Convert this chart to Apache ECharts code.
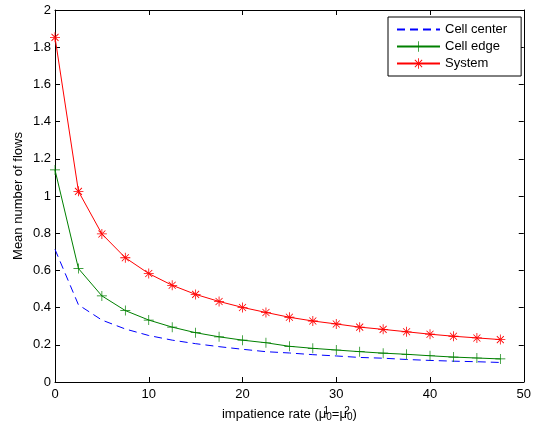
<!DOCTYPE html>
<html><head><meta charset="utf-8">
<script src="https://cdn.jsdelivr.net/npm/echarts@6/dist/echarts.min.js"></script>
<style>html,body{margin:0;padding:0;background:#fff}#c{width:534px;height:432px}</style>
</head><body><div id="c"></div>
<script>
const xValues = [0, 2.5, 5, 7.5, 10, 12.5, 15, 17.5, 20, 22.5, 25, 27.5, 30, 32.5, 35, 37.5, 40, 42.5, 45, 47.5];
const cellCenter = [0.713, 0.415, 0.333, 0.285, 0.250, 0.225, 0.206, 0.190, 0.176, 0.163, 0.156, 0.147, 0.140, 0.132, 0.128, 0.121, 0.116, 0.112, 0.109, 0.105];
const cellEdge = [1.14, 0.61, 0.463, 0.384, 0.333, 0.295, 0.265, 0.243, 0.225, 0.211, 0.192, 0.181, 0.172, 0.163, 0.155, 0.149, 0.141, 0.134, 0.129, 0.124];
const system = [1.853, 1.025, 0.796, 0.668, 0.583, 0.520, 0.471, 0.433, 0.401, 0.374, 0.348, 0.328, 0.312, 0.295, 0.283, 0.270, 0.257, 0.246, 0.237, 0.228];
const seriesNames = ['Cell center', 'Cell edge', 'System'];
const seriesColors = ['#0000ff', '#008000', '#ff0000'];
const yTickLabels = ['0','0.2','0.4','0.6','0.8','1','1.2','1.4','1.6','1.8','2'];

const pair = arr => xValues.map((x, i) => [x, arr[i]]);
const plusPath = 'path://M-1,-0.07L1,-0.07L1,0.07L-1,0.07Z M-0.07,-1L0.07,-1L0.07,1L-0.07,1Z';
const starPath = 'path://M-1,-0.08L1,-0.08L1,0.08L-1,0.08Z M-0.08,-1L0.08,-1L0.08,1L-0.08,1Z ' +
  'M-0.643,-0.757L0.757,0.643L0.643,0.757L-0.757,-0.643Z M-0.643,0.757L0.757,-0.643L0.643,-0.757L-0.757,0.643Z';
const emptyPath = 'path://M0,0L1,0L1,1L0,1Z';
const dashPattern = [8, 5];
const font = 'Liberation Sans';
const chart = echarts.init(document.getElementById('c'));
const axisCommon = {
  axisLine: {show: true, onZero: false, lineStyle: {color: '#000', width: 1}},
  axisTick: {show: true, inside: true, length: 5, lineStyle: {color: '#000'}},
  splitLine: {show: false}
};
chart.setOption({
  animation: false,
  backgroundColor: '#fff',
  textStyle: {fontFamily: font},
  grid: {left: 55, right: 8, top: 10, bottom: 50, containLabel: false},
  legend: {
    orient: 'vertical', left: 388, top: 17,
    data: seriesNames,
    backgroundColor: '#fff', borderColor: '#000', borderWidth: 1, borderRadius: 0,
    padding: [6, 14, 6, 8], itemGap: 4, itemWidth: 43, itemHeight: 13,
    textStyle: {fontFamily: font, fontSize: 13, color: '#000'}
  },
  xAxis: [
    Object.assign({type: 'value', min: 0, max: 50, interval: 10, position: 'bottom',
      axisLabel: {fontFamily: font, fontSize: 13, color: '#000', margin: 6},
      name: '{t|impatience rate (μ}{sup|1}{sub|0}{t|=μ}{sup|2}{sub|0}{t|)}',
      nameLocation: 'middle', nameGap: 24, nameMoveOverlap: false,
      nameTextStyle: {rich: {
        t: {fontFamily: font, fontSize: 13, color: '#000', lineHeight: 16},
        sup: {fontFamily: font, fontSize: 10, color: '#000', verticalAlign: 'top', lineHeight: 16, width: 0},
        sub: {fontFamily: font, fontSize: 10, color: '#000', verticalAlign: 'bottom', lineHeight: 16}
      }}}, axisCommon),
    Object.assign({type: 'value', min: 0, max: 50, interval: 10, position: 'top',
      axisLabel: {show: false}}, axisCommon)
  ],
  yAxis: [
    Object.assign({type: 'value', min: 0, max: 2, interval: 0.2, position: 'left',
      axisLabel: {fontFamily: font, fontSize: 13, color: '#000', margin: 4,
        formatter: (v) => yTickLabels[Math.round(v / 0.2)]},
      name: 'Mean number of flows', nameLocation: 'middle', nameGap: 30, nameMoveOverlap: false,
      nameTextStyle: {fontFamily: font, fontSize: 13, color: '#000'}}, axisCommon),
    Object.assign({type: 'value', min: 0, max: 2, interval: 0.2, position: 'right',
      axisLabel: {show: false}}, axisCommon)
  ],
  series: [
    {name: seriesNames[0], type: 'line', data: pair(cellCenter), symbol: emptyPath, symbolSize: 0, showSymbol: false,
      color: seriesColors[0], itemStyle: {color: 'rgba(0,0,0,0)', borderWidth: 0}, lineStyle: {color: seriesColors[0], width: 1, type: dashPattern}},
    {name: seriesNames[1], type: 'line', data: pair(cellEdge), symbol: plusPath, symbolSize: 10,
      color: seriesColors[1], itemStyle: {color: seriesColors[1]}, lineStyle: {color: seriesColors[1], width: 1}},
    {name: seriesNames[2], type: 'line', data: pair(system), symbol: starPath, symbolSize: 10,
      color: seriesColors[2], itemStyle: {color: seriesColors[2]}, lineStyle: {color: seriesColors[2], width: 1}}
  ]
});
</script></body></html>
